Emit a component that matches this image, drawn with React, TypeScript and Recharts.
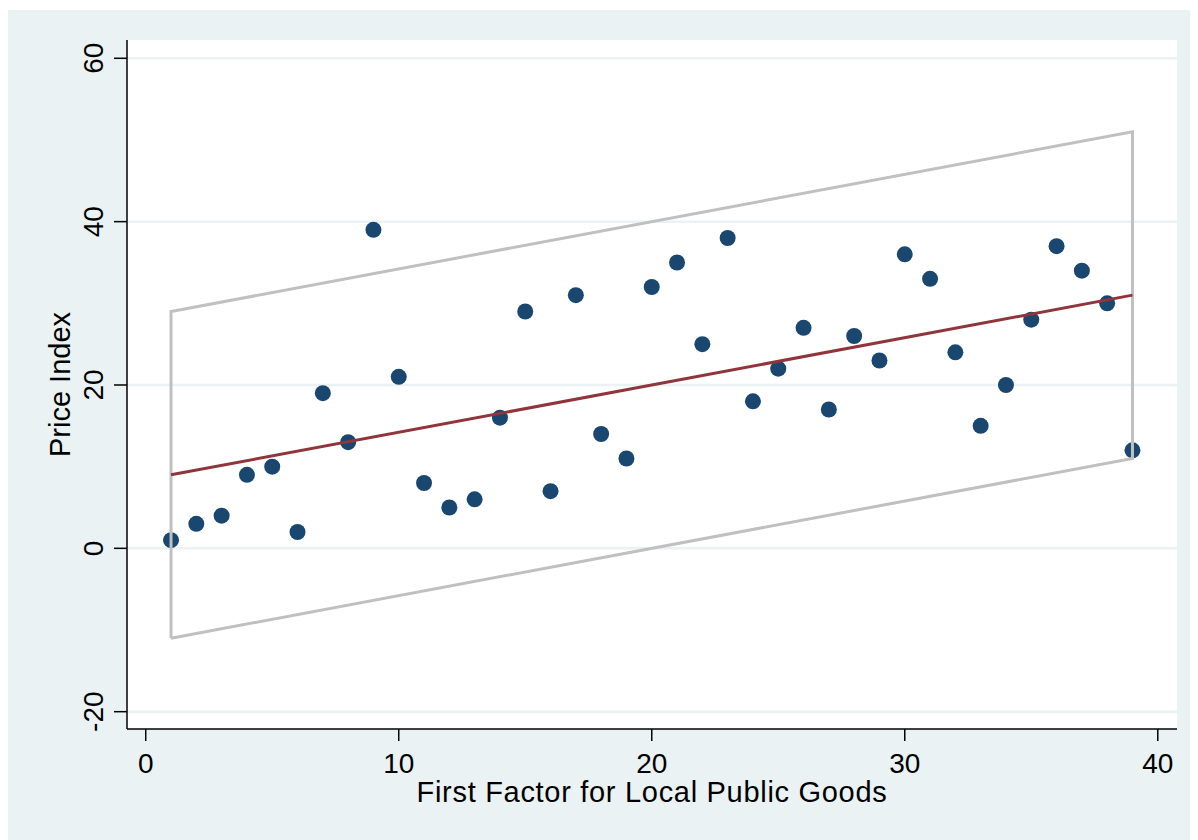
import { CartesianGrid, ComposedChart, Label, Scatter, XAxis, YAxis } from "recharts"

// observed points (x = 1..39)
const factorX = [
  1, 2, 3, 4, 5, 6, 7, 8, 9, 10, 11, 12, 13, 14, 15, 16, 17, 18, 19, 20, 21, 22, 23,
  24, 25, 26, 27, 28, 29, 30, 31, 32, 33, 34, 35, 36, 37, 38, 39,
]
const priceIndex = [
  1, 3, 4, 9, 10, 2, 19, 13, 39, 21, 8, 5, 6, 16, 29, 7, 31, 14, 11, 32, 35, 25, 38,
  18, 22, 27, 17, 26, 23, 36, 33, 24, 15, 20, 28, 37, 34, 30, 12,
]

// fitted line and interval band, at the ends of the data range
const fitX = [1, 39]
const fitY = [9, 31]
const ciUpper = [29, 51]
const ciLower = [-11, 11]

const xTicks = [0, 10, 20, 30, 40]
const yTicks = [-20, 0, 20, 40, 60]

const xTitle = "First Factor for Local Public Goods"
const yTitle = "Price Index"

const points = factorX.map((x, i) => ({ x, y: priceIndex[i] }))
const fitLine = fitX.map((x, i) => ({ x, y: fitY[i] }))
// closed outline: lower-left -> upper-left -> upper-right -> lower-right -> lower-left
const band = [
  { x: fitX[0], y: ciLower[0] },
  { x: fitX[0], y: ciUpper[0] },
  { x: fitX[1], y: ciUpper[1] },
  { x: fitX[1], y: ciLower[1] },
  { x: fitX[0], y: ciLower[0] },
]

const FONT = "'Liberation Sans', Arial, sans-serif"

const XTick = (props: any) => {
  const { x, y, payload } = props
  return (
    <text x={x} y={y} dy="0.71em" textAnchor="middle" fontSize={28} fontFamily={FONT} fill="#000">
      {payload.value}
    </text>
  )
}

const YTick = (props: any) => {
  const { x, y, payload } = props
  return (
    <text
      x={x}
      y={y}
      transform={`rotate(-90 ${x} ${y})`}
      textAnchor="middle"
      fontSize={28}
      fontFamily={FONT}
      fill="#000"
    >
      {payload.value}
    </text>
  )
}

const noDot = () => <g />

export default function App() {
  return (
    <div style={{ marginTop: 2, width: 1190, height: 830, background: "#eaf2f3" }}>
      <ComposedChart width={1190} height={830} margin={{ top: 30, right: 21, bottom: 0, left: 0 }}>
        <CartesianGrid
          vertical={false}
          fill="#ffffff"
          stroke="#eaf2f3"
          strokeWidth={2.5}
          horizontalValues={yTicks}
        />
        <XAxis
          type="number"
          dataKey="x"
          domain={[-0.74, 40.76]}
          allowDataOverflow
          ticks={xTicks}
          height={111}
          tickSize={12}
          tickMargin={12}
          stroke="#000"
          strokeWidth={1.5}
          tick={<XTick />}
        >
          <Label
            content={(p: any) => {
              const vb = p.viewBox || {}
              return (
                <text
                  x={vb.x + vb.width / 2}
                  y={vb.y + 73}
                  textAnchor="middle"
                  fontSize={29}
                  letterSpacing={0.7}
                  fontFamily={FONT}
                  fill="#000"
                >
                  {xTitle}
                </text>
              )
            }}
          />
        </XAxis>
        <YAxis
          type="number"
          dataKey="y"
          domain={[-22.12, 62.24]}
          allowDataOverflow
          ticks={yTicks}
          width={119}
          tickSize={13}
          tickMargin={11}
          stroke="#000"
          strokeWidth={1.5}
          tick={<YTick />}
        >
          <Label
            content={(p: any) => {
              const vb = p.viewBox || {}
              const cx = 62
              const cy = vb.y + vb.height / 2
              return (
                <text
                  x={cx}
                  y={cy}
                  transform={`rotate(-90 ${cx} ${cy})`}
                  textAnchor="middle"
                  fontSize={29}
                  fontFamily={FONT}
                  fill="#000"
                >
                  {yTitle}
                </text>
              )
            }}
          />
        </YAxis>
        <Scatter
          data={points}
          fill="#1a476f"
          isAnimationActive={false}
          shape={(p: any) => <circle cx={p.cx} cy={p.cy} r={8} fill="#1a476f" />}
        />
        <Scatter
          data={band}
          line={{ stroke: "#c0c0c0", strokeWidth: 3 }}
          lineType="joint"
          shape={noDot}
          isAnimationActive={false}
        />
        <Scatter
          data={fitLine}
          line={{ stroke: "#90353b", strokeWidth: 3 }}
          lineType="joint"
          shape={noDot}
          isAnimationActive={false}
        />
      </ComposedChart>
    </div>
  )
}
